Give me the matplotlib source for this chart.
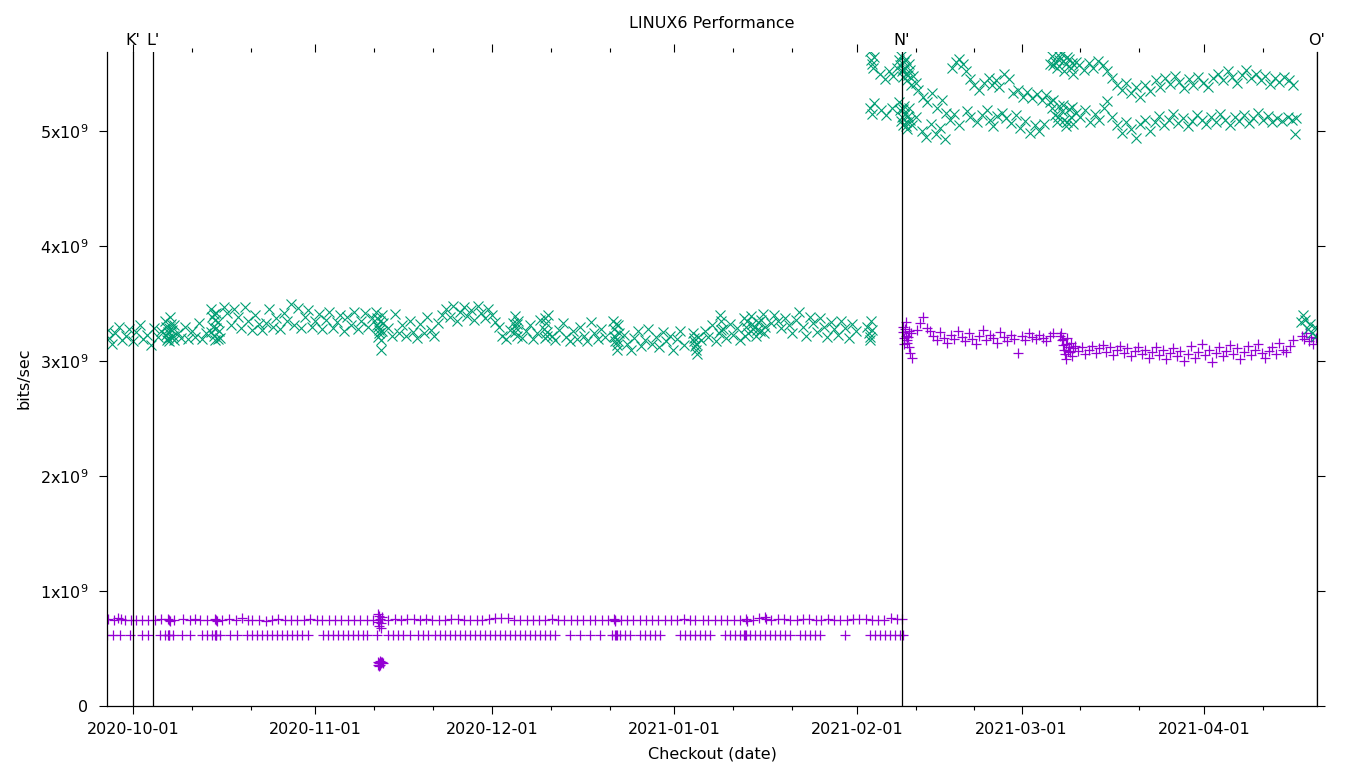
import pandas as pd
import matplotlib
matplotlib.use('Agg')
import matplotlib.pyplot as plt
import matplotlib.dates as mdates
import matplotlib.ticker as mticker
from matplotlib.transforms import blended_transform_factory

start = pd.Timestamp('2020-10-01')

# (days after 2020-10-01, Gbit/s)
purple_upper = [
    (-4.3, 0.755), (-3.2, 0.750), (-2.6, 0.762), (-2.0, 0.758), (-1.4, 0.748), (-0.4, 0.752),
    (0.6, 0.750), (1.5, 0.745), (2.6, 0.752), (3.7, 0.748), (4.8, 0.755), (5.9, 0.760),
    (6.1, 0.750), (6.3, 0.742), (6.9, 0.748), (8.5, 0.755), (9.7, 0.750), (10.5, 0.760),
    (11.4, 0.752), (12.6, 0.745), (14.0, 0.760), (14.1, 0.750), (14.3, 0.742), (15.2, 0.752),
    (16.4, 0.755), (17.6, 0.748), (18.6, 0.765), (19.5, 0.752), (20.3, 0.745), (21.5, 0.750),
    (22.6, 0.740), (23.6, 0.752), (24.7, 0.758), (25.8, 0.748), (26.9, 0.752), (27.9, 0.745),
    (29.0, 0.752), (30.1, 0.755), (31.2, 0.748), (32.2, 0.745), (33.3, 0.750), (34.4, 0.752),
    (35.4, 0.748), (36.5, 0.750), (37.6, 0.745), (38.6, 0.752), (39.7, 0.748), (40.8, 0.750),
    (43.4, 0.748), (44.5, 0.755), (45.6, 0.752), (46.6, 0.760), (47.7, 0.758), (48.8, 0.752),
    (49.8, 0.755), (50.9, 0.748), (52.0, 0.750), (53.0, 0.752), (54.1, 0.760), (55.2, 0.755),
    (56.2, 0.748), (57.3, 0.752), (58.4, 0.750), (59.4, 0.745), (60.5, 0.760), (61.6, 0.765),
    (62.6, 0.768), (63.7, 0.762), (64.8, 0.750), (65.8, 0.748), (66.9, 0.752), (68.0, 0.750),
    (69.0, 0.748), (70.1, 0.752), (71.2, 0.755), (72.2, 0.750), (73.3, 0.748), (74.4, 0.752),
    (75.4, 0.750), (76.5, 0.745), (77.6, 0.752), (78.6, 0.748), (79.7, 0.750), (80.8, 0.752),
    (81.8, 0.760), (81.9, 0.750), (82.0, 0.742), (82.9, 0.752), (84.0, 0.748), (85.0, 0.750),
    (86.1, 0.752), (87.2, 0.748), (88.2, 0.750), (89.3, 0.745), (90.4, 0.750), (91.4, 0.748),
    (92.5, 0.752), (93.6, 0.755), (94.6, 0.748), (95.5, 0.745), (96.8, 0.750), (97.8, 0.752),
    (98.9, 0.748), (100.0, 0.750), (101.0, 0.752), (102.1, 0.748), (103.2, 0.750), (104.2, 0.760),
    (104.3, 0.742), (105.3, 0.752), (106.4, 0.765), (107.4, 0.770), (107.5, 0.755), (108.5, 0.752),
    (109.6, 0.758), (110.6, 0.755), (111.7, 0.750), (112.8, 0.752), (113.8, 0.758), (114.9, 0.755),
    (116.0, 0.750), (117.0, 0.752), (118.1, 0.755), (119.2, 0.750), (120.2, 0.752), (121.3, 0.748),
    (122.4, 0.755), (123.4, 0.760), (124.5, 0.758), (125.6, 0.752), (126.6, 0.750), (127.7, 0.748),
    (128.8, 0.765), (129.8, 0.760), (130.6, 0.755),
]

purple_lower = [
    (-4.4, 0.617), (-3.4, 0.617), (-2.2, 0.617), (-0.5, 0.617), (1.5, 0.617), (2.5, 0.617),
    (4.6, 0.617), (5.4, 0.617), (6.0, 0.617), (6.1, 0.617), (6.2, 0.617), (6.8, 0.617),
    (8.3, 0.617), (9.7, 0.617), (11.7, 0.617), (12.6, 0.617), (13.4, 0.617), (14.0, 0.617),
    (14.1, 0.617), (14.2, 0.617), (14.8, 0.617), (16.5, 0.617), (17.7, 0.617), (19.4, 0.617),
    (20.2, 0.617), (21.1, 0.617), (21.9, 0.617), (22.8, 0.617), (23.6, 0.617), (24.5, 0.617),
    (25.3, 0.617), (26.2, 0.617), (27.0, 0.617), (27.9, 0.617), (28.7, 0.617), (29.7, 0.617),
    (32.3, 0.617), (33.1, 0.617), (34.0, 0.617), (34.8, 0.617), (35.7, 0.617), (36.5, 0.617),
    (37.4, 0.617), (38.2, 0.617), (39.1, 0.617), (39.8, 0.617), (41.5, 0.617), (43.3, 0.617),
    (44.2, 0.617), (45.0, 0.617), (45.9, 0.617), (47.1, 0.617), (48.4, 0.617), (49.3, 0.617),
    (50.1, 0.617), (51.3, 0.617), (52.2, 0.617), (53.0, 0.617), (53.9, 0.617), (54.7, 0.617),
    (55.6, 0.617), (56.4, 0.617), (57.3, 0.617), (58.1, 0.617), (59.0, 0.617), (59.8, 0.617),
    (60.7, 0.617), (61.5, 0.617), (62.4, 0.617), (63.2, 0.617), (64.1, 0.617), (64.9, 0.617),
    (65.8, 0.617), (66.6, 0.617), (67.5, 0.617), (68.3, 0.617), (69.2, 0.617), (70.0, 0.617),
    (70.9, 0.617), (71.7, 0.617), (74.3, 0.617), (76.0, 0.617), (77.7, 0.617), (79.4, 0.617),
    (81.4, 0.617), (82.0, 0.617), (82.1, 0.617), (82.2, 0.617), (82.7, 0.617), (83.6, 0.617),
    (84.5, 0.617), (86.2, 0.617), (87.0, 0.617), (87.9, 0.617), (88.7, 0.617), (89.5, 0.617),
    (92.9, 0.617), (93.8, 0.617), (94.6, 0.617), (95.5, 0.617), (96.3, 0.617), (97.2, 0.617),
    (98.0, 0.617), (100.6, 0.617), (101.4, 0.617), (102.3, 0.617), (103.1, 0.617), (103.9, 0.617),
    (104.0, 0.617), (104.1, 0.617), (104.8, 0.617), (105.7, 0.617), (106.5, 0.617), (107.4, 0.617),
    (108.2, 0.617), (109.1, 0.617), (109.9, 0.617), (110.8, 0.617), (111.6, 0.617), (113.3, 0.617),
    (114.2, 0.617), (115.0, 0.617), (115.9, 0.617), (116.7, 0.617), (121.0, 0.617), (125.2, 0.617),
    (126.1, 0.617), (126.9, 0.617), (127.8, 0.617), (128.6, 0.617), (129.5, 0.617), (130.3, 0.617),
    (130.8, 0.617),
]

# odd run around 2020-11-12
purple_nov12 = [
    (41.6, 0.80), (41.8, 0.78), (42.0, 0.76), (41.7, 0.73), (41.9, 0.70), (42.1, 0.68),
    (42.2, 0.72), (42.4, 0.77), (41.6, 0.38), (41.8, 0.37), (42.0, 0.36), (42.2, 0.37),
    (41.9, 0.35), (42.1, 0.38), (42.5, 0.37), (41.7, 0.36), (42.3, 0.38), (42.0, 0.39),
]

purple_after = [
    (130.8, 3.30), (130.9, 3.25), (131.0, 3.20), (131.1, 3.15), (131.2, 3.28), (131.4, 3.22),
    (131.6, 3.18), (131.8, 3.12), (132.0, 3.07), (132.2, 3.24), (132.4, 3.03), (131.3, 3.34),
    (131.5, 3.16), (131.7, 3.21), (131.9, 3.26),
    (133.2, 3.27), (133.8, 3.33), (134.3, 3.38), (134.9, 3.29), (135.4, 3.26),
    (136.0, 3.22), (136.6, 3.18), (137.2, 3.25), (137.8, 3.20), (138.4, 3.16), (139.0, 3.23),
    (139.6, 3.19), (140.2, 3.26), (140.8, 3.21), (141.4, 3.17), (142.0, 3.24), (142.6, 3.19),
    (143.2, 3.15), (143.8, 3.22), (144.4, 3.27), (145.0, 3.18), (145.6, 3.23), (146.2, 3.20),
    (146.8, 3.16), (147.4, 3.25), (148.0, 3.21), (148.6, 3.17), (149.2, 3.23), (149.8, 3.19),
    (150.4, 3.07), (151.0, 3.22), (151.6, 3.18), (152.2, 3.24), (152.8, 3.21), (153.4, 3.19),
    (154.0, 3.23), (154.6, 3.20), (155.2, 3.17), (155.8, 3.22), (156.4, 3.24),
    (157.6, 3.22), (157.8, 3.18), (158.0, 3.14), (158.2, 3.10), (158.4, 3.06), (158.6, 3.02),
    (158.8, 3.20), (159.0, 3.12), (159.2, 3.08), (159.4, 3.16), (159.6, 3.04), (159.8, 3.11),
    (160.0, 3.13), (157.7, 3.24), (158.1, 3.19), (158.5, 3.15), (158.9, 3.09),
    (160.6, 3.09), (161.2, 3.12), (161.8, 3.06), (162.4, 3.10), (163.0, 3.13),
    (163.6, 3.07), (164.2, 3.11), (164.8, 3.14), (165.4, 3.08), (166.0, 3.12), (166.6, 3.05),
    (167.2, 3.10), (167.8, 3.13), (168.4, 3.07), (169.0, 3.11), (169.6, 3.04), (170.2, 3.09),
    (170.8, 3.12), (171.4, 3.06), (172.0, 3.10), (172.6, 3.03), (173.2, 3.08), (173.8, 3.12),
    (174.4, 3.05), (175.0, 3.10), (175.6, 3.02), (176.2, 3.07), (176.8, 3.11), (177.4, 3.04),
    (178.0, 3.09), (178.6, 3.00), (179.2, 3.06), (179.8, 3.13), (180.4, 3.03), (181.0, 3.08),
    (181.6, 3.15), (182.2, 3.05), (182.8, 3.10), (183.4, 2.99), (184.0, 3.07), (184.6, 3.12),
    (185.2, 3.04), (185.8, 3.09), (186.4, 3.14), (187.0, 3.06), (187.6, 3.11), (188.2, 3.02),
    (188.8, 3.08), (189.4, 3.13), (190.0, 3.05), (190.6, 3.10), (191.2, 3.15), (191.8, 3.07),
    (192.4, 3.03), (193.0, 3.09), (193.6, 3.12), (194.2, 3.06), (194.8, 3.16), (195.4, 3.10),
    (196.0, 3.08), (196.6, 3.13), (197.2, 3.18), (198.6, 3.22), (199.0, 3.19), (199.4, 3.24),
    (199.8, 3.17), (200.2, 3.21), (200.6, 3.15), (201.0, 3.20),
]

green_before = [
    (-4.3, 3.27), (-4.0, 3.20), (-3.5, 3.15), (-3.0, 3.24), (-2.4, 3.30), (-1.8, 3.18),
    (-1.2, 3.22), (-0.6, 3.28), (0.0, 3.17), (0.6, 3.25), (1.2, 3.31), (1.8, 3.19),
    (2.4, 3.23), (3.0, 3.14), (3.6, 3.29), (4.2, 3.21), (4.8, 3.26),
    (5.5, 3.35), (5.7, 3.30), (5.9, 3.25), (6.0, 3.20), (6.2, 3.17), (6.4, 3.32),
    (6.6, 3.27), (6.8, 3.22), (7.0, 3.18), (6.3, 3.38), (5.6, 3.23), (6.1, 3.29),
    (6.5, 3.21), (6.9, 3.31), (5.8, 3.18),
    (7.6, 3.24), (8.2, 3.20), (8.8, 3.30), (9.4, 3.19), (10.0, 3.26), (10.6, 3.21),
    (11.2, 3.33), (11.8, 3.19), (12.4, 3.24),
    (13.2, 3.45), (13.4, 3.38), (13.6, 3.30), (13.8, 3.22), (14.0, 3.18), (14.2, 3.42),
    (14.4, 3.34), (14.6, 3.26), (14.8, 3.20), (13.3, 3.25), (13.7, 3.41), (14.1, 3.29),
    (14.5, 3.19), (13.9, 3.36),
    (15.4, 3.47), (16.0, 3.42), (16.6, 3.31), (17.2, 3.45), (17.8, 3.38), (18.4, 3.29),
    (19.0, 3.47), (19.6, 3.35), (20.2, 3.27), (20.8, 3.40), (21.4, 3.32),
    (22.0, 3.27), (22.6, 3.33), (23.2, 3.45), (23.8, 3.30), (24.4, 3.37), (25.0, 3.28),
    (25.6, 3.42), (26.2, 3.35), (26.8, 3.50), (27.4, 3.31), (28.0, 3.46),
    (28.6, 3.29), (29.2, 3.38), (29.8, 3.44), (30.4, 3.30), (31.0, 3.35), (31.6, 3.41),
    (32.2, 3.28), (32.8, 3.36), (33.4, 3.43), (34.0, 3.29), (34.6, 3.34), (35.2, 3.40),
    (35.8, 3.26), (36.4, 3.38), (37.0, 3.31), (37.6, 3.43), (38.2, 3.28), (38.8, 3.35),
    (39.4, 3.42), (40.0, 3.30), (40.6, 3.37),
    (41.3, 3.43), (41.5, 3.37), (41.7, 3.30), (41.9, 3.24), (42.1, 3.18), (42.3, 3.40),
    (42.5, 3.33), (41.8, 3.27), (42.2, 3.10), (42.0, 3.35), (41.6, 3.21), (42.4, 3.26),
    (41.4, 3.31),
    (43.4, 3.29), (44.0, 3.22), (44.6, 3.41), (45.2, 3.24), (45.8, 3.31), (46.4, 3.22),
    (47.0, 3.35), (47.6, 3.25), (48.2, 3.20), (48.8, 3.32), (49.4, 3.24), (50.0, 3.38),
    (50.6, 3.27), (51.2, 3.22), (51.8, 3.33),
    (52.6, 3.40), (53.2, 3.45), (53.8, 3.38), (54.4, 3.48), (55.0, 3.35), (55.6, 3.43),
    (56.2, 3.47), (56.8, 3.39), (57.4, 3.44), (58.0, 3.36), (58.6, 3.48), (59.2, 3.42),
    (59.8, 3.37), (60.4, 3.45), (61.0, 3.40), (61.6, 3.34), (62.2, 3.30),
    (62.8, 3.22), (63.4, 3.19), (64.0, 3.27), (64.6, 3.33), (64.9, 3.39), (65.1, 3.29),
    (65.3, 3.22), (65.5, 3.35), (66.2, 3.20), (66.8, 3.26), (67.4, 3.31), (68.0, 3.19),
    (68.6, 3.24), (69.2, 3.36), (69.8, 3.28), (70.0, 3.20), (70.2, 3.33), (70.4, 3.25),
    (70.6, 3.40), (65.0, 3.25), (65.2, 3.32), (70.1, 3.37), (70.3, 3.22),
    (71.2, 3.22), (71.8, 3.18), (72.4, 3.27), (73.0, 3.33), (73.6, 3.21), (74.2, 3.17),
    (74.8, 3.26), (75.4, 3.19), (76.0, 3.30), (76.6, 3.22), (77.2, 3.17), (77.8, 3.34),
    (78.4, 3.24), (79.0, 3.19), (79.6, 3.28), (80.2, 3.21),
    (81.6, 3.35), (81.8, 3.28), (82.0, 3.21), (82.2, 3.14), (82.4, 3.31), (82.6, 3.24),
    (81.9, 3.17), (82.3, 3.10), (81.7, 3.22), (82.1, 3.32), (82.5, 3.17),
    (83.4, 3.23), (84.0, 3.15), (84.6, 3.10), (85.2, 3.20), (85.8, 3.26), (86.4, 3.13),
    (87.0, 3.18), (87.6, 3.28), (88.2, 3.15), (88.8, 3.21), (89.4, 3.12), (90.0, 3.25),
    (90.6, 3.17), (91.2, 3.22), (91.8, 3.10), (92.4, 3.19), (93.0, 3.26), (93.6, 3.14),
    (95.2, 3.24), (95.4, 3.17), (95.6, 3.10), (95.8, 3.06), (96.0, 3.21), (95.5, 3.13),
    (95.3, 3.20), (95.7, 3.15),
    (96.6, 3.18), (97.2, 3.26), (97.8, 3.21), (98.4, 3.31), (99.0, 3.17), (99.6, 3.24),
    (100.2, 3.28), (100.8, 3.20), (101.4, 3.32), (102.0, 3.23), (99.8, 3.40), (100.0, 3.35),
    (99.9, 3.27), (102.6, 3.29), (103.2, 3.18),
    (103.8, 3.37), (104.2, 3.30), (104.6, 3.24), (105.0, 3.39), (105.4, 3.28), (105.8, 3.22),
    (106.2, 3.34), (106.6, 3.26), (107.0, 3.41), (107.4, 3.30), (104.0, 3.22), (104.4, 3.35),
    (105.2, 3.32), (106.0, 3.27), (106.8, 3.36), (107.2, 3.24),
    (108.4, 3.33), (109.0, 3.40), (109.6, 3.35), (110.2, 3.29), (110.8, 3.37), (111.4, 3.31),
    (112.0, 3.24), (112.6, 3.36), (113.2, 3.43), (113.8, 3.30), (114.4, 3.22), (115.0, 3.38),
    (115.6, 3.33), (116.2, 3.25), (116.8, 3.37), (117.4, 3.30), (118.0, 3.21), (118.6, 3.34),
    (119.2, 3.28), (119.8, 3.23), (120.4, 3.35), (121.0, 3.29), (121.6, 3.20), (122.2, 3.32),
    (122.8, 3.26),
    (124.8, 3.30), (125.0, 3.24), (125.2, 3.18), (125.4, 3.35), (125.6, 3.27), (125.3, 3.21),
]

green_after_upper = [
    (125.2, 5.70), (125.4, 5.62), (125.6, 5.58), (125.8, 5.55), (126.0, 5.64),
    (127.0, 5.50), (127.8, 5.45), (128.4, 5.52), (129.2, 5.48), (129.8, 5.55),
    (130.2, 5.62), (130.4, 5.57), (130.6, 5.52), (130.8, 5.47), (131.0, 5.60), (131.2, 5.55),
    (131.4, 5.50), (131.6, 5.44), (131.8, 5.58), (132.0, 5.53), (132.2, 5.40), (132.6, 5.48),
    (133.0, 5.42), (133.4, 5.36), (130.5, 5.65), (130.9, 5.54), (131.3, 5.63), (131.7, 5.49),
    (134.2, 5.30), (135.0, 5.25), (135.8, 5.33), (136.6, 5.20), (137.4, 5.27), (138.2, 5.16),
    (139.2, 5.55), (139.8, 5.60), (140.4, 5.63), (141.0, 5.58), (141.6, 5.52), (142.2, 5.45),
    (143.0, 5.40), (143.8, 5.36), (144.6, 5.42), (145.4, 5.46), (146.0, 5.40), (146.6, 5.44),
    (147.2, 5.38), (148.0, 5.50), (148.8, 5.45), (149.6, 5.33), (150.4, 5.36), (151.2, 5.30),
    (152.0, 5.34), (152.8, 5.29), (153.6, 5.32), (154.4, 5.27), (155.2, 5.31),
    (155.8, 5.58), (156.2, 5.65), (156.6, 5.60), (157.0, 5.55), (157.4, 5.62), (157.8, 5.67),
    (158.2, 5.52), (158.6, 5.58), (159.0, 5.63), (159.4, 5.55), (159.8, 5.50), (160.2, 5.60),
    (156.4, 5.57), (157.2, 5.66), (158.0, 5.61), (158.8, 5.64), (159.6, 5.59),
    (160.8, 5.57), (161.6, 5.53), (162.4, 5.59), (163.2, 5.55), (164.0, 5.61), (164.8, 5.57),
    (165.6, 5.52), (166.4, 5.46), (167.2, 5.40), (168.0, 5.36), (168.8, 5.42), (169.6, 5.33),
    (170.4, 5.38), (171.2, 5.30), (172.0, 5.40), (172.8, 5.35),
    (173.8, 5.44), (174.6, 5.38), (175.4, 5.46), (176.2, 5.41), (177.0, 5.48), (177.8, 5.43),
    (178.6, 5.37), (179.4, 5.45), (180.2, 5.40), (181.0, 5.47), (181.8, 5.42), (182.6, 5.38),
    (183.6, 5.46), (184.4, 5.50), (185.2, 5.44), (186.0, 5.52), (186.8, 5.47), (187.6, 5.42),
    (188.4, 5.49), (189.2, 5.53), (190.0, 5.46), (190.8, 5.50), (191.6, 5.44), (192.4, 5.48),
    (193.2, 5.41), (194.0, 5.46), (194.8, 5.43), (195.6, 5.47), (196.4, 5.44), (197.2, 5.40),
]

green_after_lower = [
    (125.2, 5.20), (125.6, 5.15), (126.0, 5.24), (127.2, 5.18), (128.0, 5.14), (129.0, 5.20),
    (130.2, 5.25), (130.4, 5.18), (130.6, 5.12), (130.8, 5.05), (131.0, 5.22), (131.2, 5.15),
    (131.4, 5.08), (131.6, 5.02), (131.8, 5.20), (132.0, 5.10), (132.4, 5.05), (133.0, 5.12),
    (130.5, 5.09), (130.9, 5.19), (131.3, 5.04), (131.7, 5.13),
    (134.0, 5.00), (134.8, 4.95), (135.6, 5.06), (136.4, 4.97), (137.2, 5.03), (138.0, 4.93),
    (138.8, 5.10), (139.6, 5.15), (140.4, 5.05), (141.8, 5.17), (142.2, 5.12), (143.4, 5.08),
    (144.2, 5.14), (145.2, 5.18), (145.6, 5.10), (146.2, 5.04), (146.8, 5.13),
    (147.6, 5.16), (148.4, 5.11), (149.2, 5.07), (150.0, 5.14), (150.8, 5.03), (151.6, 5.09),
    (152.4, 4.98), (153.2, 5.05), (154.0, 5.00), (154.8, 5.06),
    (155.8, 5.25), (156.2, 5.20), (156.6, 5.14), (157.0, 5.08), (157.4, 5.22), (157.8, 5.17),
    (158.2, 5.10), (158.6, 5.04), (159.0, 5.19), (159.4, 5.12), (159.8, 5.06), (160.2, 5.16),
    (156.4, 5.27), (157.2, 5.12), (158.0, 5.23), (158.8, 5.08), (159.6, 5.21),
    (161.0, 5.12), (161.8, 5.18), (162.6, 5.08), (163.4, 5.15), (164.2, 5.10), (165.0, 5.20),
    (165.6, 5.26), (166.4, 5.12), (167.2, 5.05), (168.0, 4.98), (168.8, 5.08), (169.6, 5.02),
    (170.4, 4.94), (171.2, 5.06), (172.0, 5.10), (172.8, 5.00),
    (173.6, 5.08), (174.4, 5.13), (175.2, 5.05), (176.0, 5.10), (176.8, 5.15), (177.6, 5.07),
    (178.4, 5.11), (179.2, 5.04), (180.0, 5.09), (180.8, 5.14), (181.6, 5.10),
    (182.4, 5.06), (183.2, 5.12), (184.0, 5.08), (184.8, 5.15), (185.6, 5.10), (186.4, 5.05),
    (187.2, 5.12), (188.0, 5.09), (188.8, 5.14), (189.6, 5.07), (190.4, 5.11), (191.2, 5.16),
    (192.0, 5.10), (192.8, 5.13), (193.6, 5.08), (194.4, 5.11), (195.2, 5.09), (196.2, 5.12),
    (197.0, 5.10), (197.6, 5.11), (197.5, 4.97),
]

green_end = [
    (198.4, 3.34), (198.8, 3.40), (199.2, 3.36), (199.6, 3.28), (200.0, 3.32), (200.4, 3.24),
    (200.8, 3.30), (201.0, 3.22),
]

# vertical markers: label, days after 2020-10-01
marker_labels = ["K'", "L'", "N'", "O'"]
marker_days = [0.0, 3.4, 130.7, 201.2]

x_range_days = (-4.4, 201.2)
y_max = 5.687e9

purple = '#9400d3'
green = '#009e73'


def to_xy(points):
    days = [p[0] for p in points]
    vals = [p[1] * 1e9 for p in points]
    return start + pd.to_timedelta(days, unit='D'), vals


plt.rcParams['font.family'] = 'DejaVu Sans'
plt.rcParams['font.size'] = 11.5

fig = plt.figure(figsize=(13.6, 7.68), dpi=100)
ax = fig.add_axes([107 / 1360, 62 / 768, 1210 / 1360, 654 / 768])

for pts in [purple_upper, purple_lower, purple_nov12, purple_after]:
    x, y = to_xy(pts)
    ax.plot(x, y, linestyle='none', marker='+', ms=7.6, mew=0.9, color=purple)

for pts in [green_before, green_after_upper, green_after_lower, green_end]:
    x, y = to_xy(pts)
    ax.plot(x, y, linestyle='none', marker='x', ms=6.9, mew=0.8, color=green)

trans = blended_transform_factory(ax.transData, ax.transAxes)
for lab, d in zip(marker_labels, marker_days):
    xd = start + pd.Timedelta(days=d)
    ax.axvline(xd, color='black', lw=0.9, zorder=5)
    ax.text(xd, 1.018, lab, transform=trans, ha='center', va='center', fontsize=11.5)

ax.set_xlim(start + pd.Timedelta(days=x_range_days[0]), start + pd.Timedelta(days=x_range_days[1]))
ax.set_ylim(0, y_max)

ax.xaxis.set_major_locator(mdates.MonthLocator())
ax.xaxis.set_minor_locator(mdates.DayLocator(bymonthday=[11, 21]))
ax.xaxis.set_major_formatter(mdates.DateFormatter('%Y-%m-%d'))
ax.yaxis.set_major_locator(mticker.MultipleLocator(1e9))


def fmt_y(v, pos):
    if v == 0:
        return '0'
    return r'%dx10$^{9}$' % round(v / 1e9)


ax.yaxis.set_major_formatter(mticker.FuncFormatter(fmt_y))

ax.tick_params(which='both', direction='out', top=True, right=True, width=0.8)
ax.tick_params(which='major', length=5.5)
ax.tick_params(which='minor', length=2.7)
ax.tick_params(axis='y', pad=8)
ax.tick_params(axis='x', pad=6)
ax.spines['top'].set_visible(False)
for s in ['left', 'bottom', 'right']:
    ax.spines[s].set_linewidth(0.9)

fig.text(712 / 1360, 1 - 24 / 768, 'LINUX6 Performance', ha='center', va='center')
fig.text(712 / 1360, 1 - 754 / 768, 'Checkout (date)', ha='center', va='center')
fig.text(24 / 1360, 1 - 378 / 768, 'bits/sec', ha='center', va='center', rotation=90)

fig.savefig('out.png', dpi=100)
